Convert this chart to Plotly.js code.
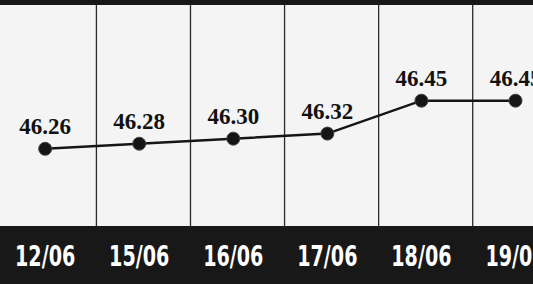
<!DOCTYPE html>
<html>
<head>
<meta charset="utf-8">
<script src="https://cdn.plot.ly/plotly-3.0.1.min.js"></script>
<style>html,body{margin:0;padding:0;background:#181818;}#chart{width:533px;height:284px;}</style>
</head>
<body>
<div id="chart"></div>
<script>
const dates = ["12/06", "15/06", "16/06", "17/06", "18/06", "19/06"];
const rates = [46.26, 46.28, 46.30, 46.32, 46.45, 46.45];
const rateLabels = ["46.26", "46.28", "46.30", "46.32", "46.45", "46.45"];

const idx = dates.map((d, i) => i);
const shapes = idx.slice(0, -1).map(i => ({
  type: "line", xref: "x", yref: "paper",
  x0: i + 0.545, x1: i + 0.545, y0: 0, y1: 1,
  line: {color: "#2a2a2a", width: 1.3}, layer: "below"
}));

const trace = {
  x: idx, y: rates, type: "scatter", mode: "lines+markers+text",
  text: rateLabels, textposition: "top center",
  textfont: {family: "Liberation Serif, Times New Roman, serif", size: 23, color: "#111111", weight: "bold"},
  line: {color: "#151515", width: 2.5},
  marker: {size: 13, color: "#151515", line: {color: "#444", width: 1}},
  cliponaxis: false, hoverinfo: "none"
};

const layout = {
  width: 533, height: 284,
  margin: {l: 0, r: 0, t: 5, b: 58},
  paper_bgcolor: "#181818", plot_bgcolor: "#f4f4f4",
  showlegend: false, shapes: shapes,
  xaxis: {
    range: [-0.48, 5.186], tickmode: "array", tickvals: idx, ticktext: dates,
    showgrid: false, zeroline: false, showline: false,
    ticks: "outside", ticklen: 0, ticklabelstandoff: 5, ticklabeloverflow: "allow",
    tickfont: {family: "DejaVu Sans Condensed, DejaVu Sans, sans-serif", size: 28, color: "#ffffff", weight: "bold"},
    fixedrange: true
  },
  yaxis: {
    range: [45.955, 46.828], visible: false, showgrid: false, zeroline: false, fixedrange: true
  }
};

Plotly.newPlot("chart", [trace], layout, {displayModeBar: false, staticPlot: true}).then(gd => {
  gd.querySelectorAll(".xtick text").forEach(t => {
    const x = parseFloat(t.getAttribute("x")) || 0;
    const y = parseFloat(t.getAttribute("y")) || 0;
    const tr = t.getAttribute("transform") || "";
    t.setAttribute("transform", tr + " translate(" + x + "," + y + ") scale(0.76,1) translate(" + (-x) + "," + (-y) + ")");
  });
});
</script>
</body>
</html>
